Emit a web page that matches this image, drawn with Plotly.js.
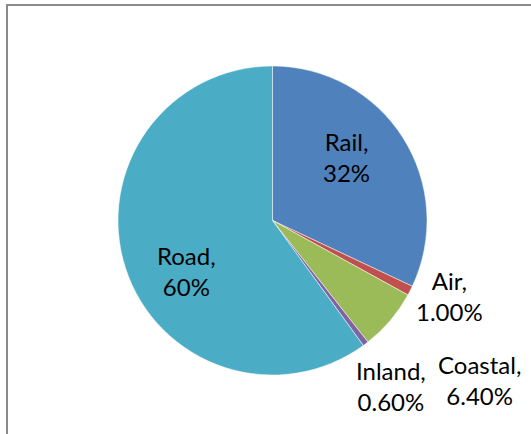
<!DOCTYPE html>
<html>
<head>
<meta charset="utf-8">
<script src="https://cdn.plot.ly/plotly-3.0.1.min.js"></script>
<style>
  html, body { margin: 0; padding: 0; background: #fff; }
  #frame { position: absolute; left: 6px; top: 4px; width: 600px; height: 500px;
           border-left: 2px solid #8a8a8a; border-top: 2px solid #8a8a8a; box-sizing: border-box; }
  #chart { position: absolute; left: 0; top: 0; width: 531px; height: 434px; }
</style>
</head>
<body>
<div id="frame"></div>
<div id="chart"></div>
<script>
// ---- data ----
const categories = ["Rail", "Air", "Coastal", "Inland", "Road"];
const shares = [32, 1.0, 6.4, 0.6, 60];
const shareDecimals = [0, 2, 2, 2, 0];
const colors = ["#4F81BD", "#C0504D", "#9BBB59", "#8064A2", "#4BACC6"];

// ---- label placement (style): radius factor and angle tweak per slice ----
const labelRadius = [0.63, 1.243, 1.694, 1.317, 0.648];
const labelAngleShift = [-8.4, -3.8, -2.75, 1.5, -12.3];

const W = 531, H = 434;
const cx = 272.5, cy = 220.5, r = 154.5;
const FONT = "Lato, 'Open Sans', sans-serif";

const trace = {
  type: "pie",
  labels: categories,
  values: shares,
  sort: false,
  direction: "clockwise",
  rotation: 0,
  marker: { colors: colors, line: { color: "#ffffff", width: 0.5 } },
  textinfo: "none",
  hoverinfo: "label+percent",
  showlegend: false,
  domain: {
    x: [(cx - r) / W, (cx + r) / W],
    y: [(H - cy - r) / H, (H - cy + r) / H]
  }
};

// data labels placed from the cumulative shares
const total = shares.reduce((a, b) => a + b, 0);
let cum = 0;
const annotations = categories.map((c, i) => {
  const mid = (cum + shares[i] / 2) / total * 360;
  cum += shares[i];
  const a = (mid + labelAngleShift[i]) * Math.PI / 180;
  const px = cx + labelRadius[i] * r * Math.sin(a);
  const py = cy - labelRadius[i] * r * Math.cos(a);
  return {
    xref: "paper", yref: "paper",
    x: px / W, y: 1 - py / H,
    xanchor: "center", yanchor: "middle",
    showarrow: false,
    align: "center",
    text: c + ",<br>" + shares[i].toFixed(shareDecimals[i]) + "%",
    font: { family: FONT, size: 24, color: "#000" }
  };
});

Plotly.newPlot("chart", [trace], {
  width: W, height: H,
  margin: { l: 0, r: 0, t: 0, b: 0 },
  paper_bgcolor: "rgba(0,0,0,0)",
  plot_bgcolor: "rgba(0,0,0,0)",
  showlegend: false,
  annotations: annotations
}, { displayModeBar: false, staticPlot: true });
</script>
</body>
</html>
